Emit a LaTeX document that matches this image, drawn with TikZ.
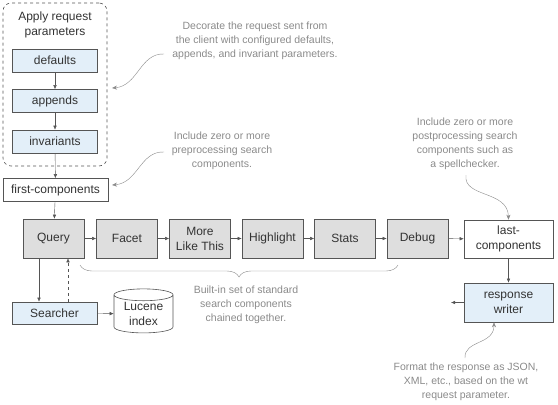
\documentclass[tikz,border=0pt]{standalone}
\usepackage{fontspec}
\setmainfont{Liberation Sans}
\usetikzlibrary{arrows.meta,shapes.geometric,decorations.pathreplacing}
\definecolor{cline}{HTML}{555555}
\definecolor{cblue}{HTML}{E3EFF9}
\definecolor{cgray}{HTML}{DEDEDE}
\definecolor{cnote}{HTML}{8A8A8A}
\definecolor{ctext}{HTML}{333333}

\begin{document}
\begin{tikzpicture}[x=1pt, y=-1pt,
  bx/.style   = {rectangle, draw=cline, semithick, text=ctext, align=center,
                 font=\fontsize{12}{15}\selectfont, inner sep=0pt},
  prm/.style  = {bx, fill=cblue, minimum width=85pt, minimum height=23pt},
  cmp/.style  = {bx, fill=cgray, minimum width=61pt, minimum height=39pt},
  ext/.style  = {bx, fill=white, minimum width=89pt, minimum height=38pt},
  grp/.style  = {rectangle, draw=cline, semithick, dashed, rounded corners=8pt,
                 minimum width=104pt, minimum height=163pt},
  ttl/.style  = {text=ctext, align=center, font=\fontsize{12}{15}\selectfont},
  db/.style   = {cylinder, shape border rotate=90, aspect=0.3, draw=cline,
                 semithick, fill=white, text=ctext, align=center, inner sep=0pt,
                 font=\fontsize{12}{15}\selectfont,
                 minimum width=59pt, minimum height=44pt},
  note/.style = {text=cnote, align=center, font=\fontsize{10.5}{14}\selectfont},
  arr/.style  = {-{Latex[length=4pt,width=3.5pt]}, thin, draw=cline},
  narr/.style = {-{Stealth[length=5pt,width=4pt]}, thin, draw=cnote},
  brc/.style  = {draw=cnote, thin, decorate,
                 decoration={brace, mirror, amplitude=12pt}}
]
\useasboundingbox (0,0) rectangle (558,405);

\node[grp] (grp) at (55,84.5) {};
\node[ttl] (ttl) at (55,24.5) {Apply request\\parameters};
\node[prm] (def) at (55,60.5) {defaults};
\node[prm] (app) at (55,101) {appends};
\node[prm] (inv) at (55,141.5) {invariants};
\node[ext, minimum width=105pt, minimum height=23pt] (first) at (55.5,190) {first-components};

\node[cmp] (qry) at (53.5,238.5) {Query};
\node[cmp] (fct) at (127,238.5) {Facet};
\node[cmp] (mlt) at (200,238.5) {More\\Like This};
\node[cmp] (hlt) at (272.5,238.5) {Highlight};
\node[cmp] (sts) at (345,238.5) {Stats};
\node[cmp] (dbg) at (417.5,238.5) {Debug};
\node[ext] (last) at (508.5,239) {last-\\components};
\node[prm, minimum width=89pt, minimum height=39pt] (wrt) at (508.5,302.5) {response\\writer};
\coordinate (out) at (451,302.5);

\node[prm, minimum height=22pt] (srch) at (54.5,313) {Searcher};
\node[db] (idx) at (143.5,314) {Lucene\\index};

\draw[arr] (def) -- (app);
\draw[arr] (app) -- (inv);
\draw[arr] (inv) -- (first);
\draw[arr] (first) -- (qry);
\draw[arr] (qry) -- (fct);
\draw[arr] (fct) -- (mlt);
\draw[arr] (mlt) -- (hlt);
\draw[arr] (hlt) -- (sts);
\draw[arr] (sts) -- (dbg);
\draw[arr] (dbg) -- (last);
\draw[arr] (last) -- (wrt);
\draw[arr] (wrt) -- (out);
\draw[arr] (srch) -- (idx);
\draw[arr] ([xshift=-14.5pt]qry.south) -- ([xshift=-14.5pt]qry.south |- srch.north);
\draw[arr, dashed] ([xshift=14.5pt]qry.south |- srch.north) -- ([xshift=14.5pt]qry.south);

\node[note] (ndec) at (255,41) {Decorate the request sent from\\the client with configured defaults,\\appends, and invariant parameters.};
\node[note] (npre) at (222,151) {Include zero or more\\preprocessing search\\components.};
\node[note] (npost) at (465,144) {Include zero or more\\postprocessing search\\components such as\\a spellchecker.};
\node[note] (nblt) at (246,305) {Built-in set of standard\\search components\\chained together.};
\node[note] (nfmt) at (466,382) {Format the response as JSON,\\XML, etc., based on the wt\\request parameter.};

\coordinate (s1) at (164,54);
\coordinate (t1) at (112,88);
\coordinate (s2) at (164,152);
\coordinate (t2) at (112,185);
\coordinate (s3) at (466,175);
\coordinate (s4) at (465,358);
\draw[narr] (s1) .. controls (140,53) and (138,86) .. (t1);
\draw[narr] (s2) .. controls (140,151) and (138,183) .. (t2);
\draw[narr] (s3) .. controls (463,198) and (508,190) .. (last.north);
\draw[narr] (s4) .. controls (464,340) and (494,345) .. ([xshift=-14.5pt]wrt.south);

\draw[brc] (80,265) -- (398,265);
\end{tikzpicture}
\end{document}
